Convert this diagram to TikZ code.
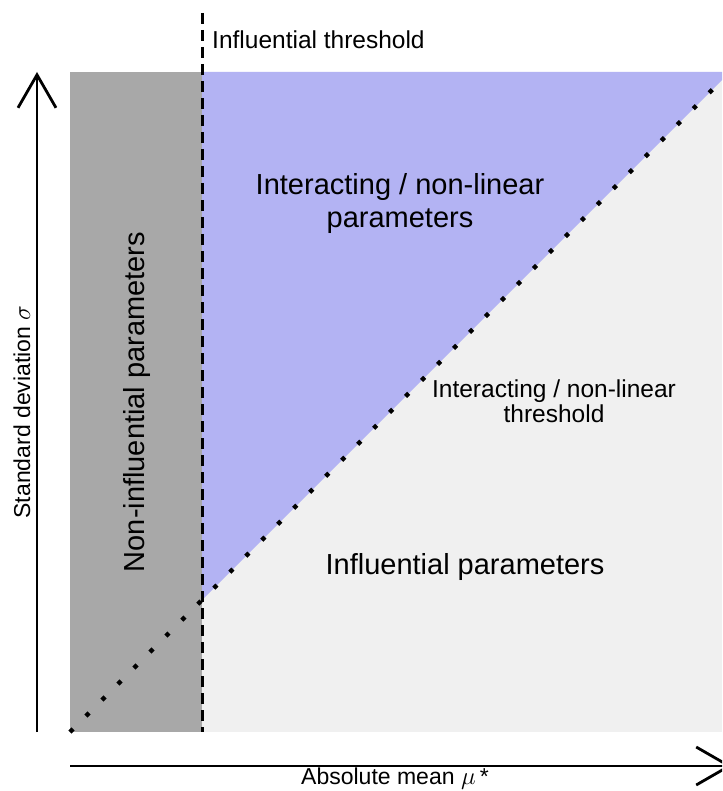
\documentclass[tikz,border=0pt]{standalone}
\usepackage{fontspec}
\setmainfont{Liberation Sans}
\usetikzlibrary{arrows.meta}

\definecolor{noninfl}{HTML}{A8A8A8}
\definecolor{interact}{HTML}{B3B3F3}
\definecolor{infl}{HTML}{F0F0F0}

\begin{document}
\begin{tikzpicture}[
	x=1pt, y=-1pt,
	axis/.style = {line width=2.8pt,
		-{Straight Barb[length=33pt,width=38pt,line width=2.8pt]}},
	threshold/.style = {line width=3pt, dash pattern=on 11pt off 6pt},
	slope/.style = {line width=4.4pt, dash pattern=on 4.4pt off 18.2pt},
	bigtext/.style = {font=\fontsize{29}{33}\selectfont, align=center,
		inner sep=0pt},
	smalltext/.style = {font=\fontsize{24.5}{25}\selectfont, align=center,
		inner sep=0pt},
	axistext/.style = {font=\fontsize{23}{24}\selectfont, inner sep=0pt}
]
\useasboundingbox (0,0) rectangle (722,791);
\clip (0,0) rectangle (722,791);

% corners of the plot area
\coordinate (bl) at (70,732);
\coordinate (tl) at (70,72);
\coordinate (tr) at (722,72);
\coordinate (br) at (722,732);
\coordinate (tt) at (202,72);
\coordinate (tb) at (202,732);
\coordinate (tk) at (202,600);
\coordinate (tc) at (722,80);
\coordinate (ttop) at (202,13);

% regions
\fill[infl] (tt) rectangle (br);
\fill[noninfl] (tl) rectangle (tb);
\fill[interact] (tt) -- (tr) -- (tc) -- (tk) -- cycle;

% thresholds
\draw[threshold] (ttop) -- (tb);
\draw[slope] (bl) -- (tc);

% axes
\coordinate (ystart) at (37,732);
\coordinate (yend) at (37,72);
\coordinate (xstart) at (70,766);
\coordinate (xend) at (732,766);
\draw[axis] (ystart) -- (yend);
\draw[axis] (xstart) -- (xend);

% labels
\node (thrlabel) [smalltext, anchor=west] at (212,40) {Influential threshold};
\node (interparams) [bigtext] at (400,204) {Interacting / non-linear\\ parameters};
\node (nonparams) [bigtext, rotate=90] at (137,402) {Non-influential parameters};
\node (inflparams) [bigtext] at (465,567) {Influential parameters};
\node (interthr) [smalltext] at (554,401) {Interacting / non-linear\\ threshold};
\node (ylabel) [axistext, rotate=90] at (22,412) {Standard deviation $\sigma$};
\node (xlabel) [axistext] at (395,779) {Absolute mean $\mu\,$*};
\end{tikzpicture}
\end{document}
